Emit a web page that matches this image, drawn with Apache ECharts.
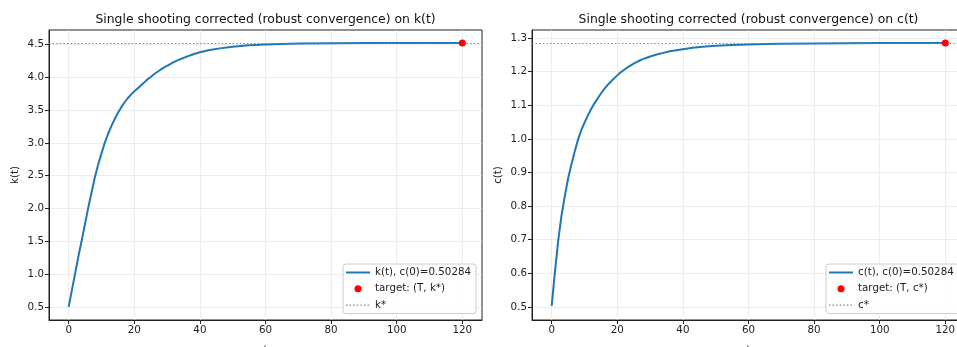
<!DOCTYPE html>
<html>
<head>
<meta charset="utf-8">
<script src="https://cdn.jsdelivr.net/npm/echarts@6/dist/echarts.min.js"></script>
<style>
  html, body { margin: 0; padding: 0; background: #fff; }
  #main { width: 957px; height: 347px; }
</style>
</head>
<body>
<div id="main"></div>
<script>
// values
const tPts = [0, 1, 2, 3, 4, 5, 6, 7, 8, 9, 10, 11, 12, 13, 14, 15, 16, 17, 18, 19, 20,
    21, 22, 23, 24, 25, 26, 27, 28, 29, 30, 32, 34, 36, 38, 40, 43, 46, 50, 55, 60, 65, 70, 80, 90, 100, 110, 120];
const kVals = [0.50, 0.76, 1.02, 1.28, 1.52, 1.77, 2.02, 2.25, 2.48, 2.67, 2.84, 3.00, 3.135, 3.255, 3.36, 3.455, 3.54, 3.615, 3.68, 3.735, 3.785,
    3.83, 3.875, 3.92, 3.965, 4.005, 4.045, 4.08, 4.115, 4.145, 4.175, 4.23, 4.275, 4.315, 4.35, 4.38, 4.415, 4.44, 4.465, 4.487, 4.50, 4.508, 4.513, 4.518, 4.521, 4.522, 4.523, 4.523];
const cVals = [0.503, 0.605, 0.698, 0.772, 0.83, 0.882, 0.924, 0.962, 0.997, 1.025, 1.048, 1.069, 1.088, 1.105, 1.120, 1.135, 1.148, 1.160, 1.170, 1.180, 1.189,
    1.198, 1.205, 1.212, 1.218, 1.224, 1.229, 1.234, 1.238, 1.2415, 1.245, 1.251, 1.256, 1.2605, 1.264, 1.267, 1.271, 1.274, 1.277, 1.279, 1.281, 1.282, 1.283, 1.284, 1.2845, 1.285, 1.285, 1.285];
const kStar = 4.523;
const cStar = 1.285;
const tEnd = 120;
const xTicks = [0, 20, 40, 60, 80, 100, 120];
const kTicks = [0.5, 1.0, 1.5, 2.0, 2.5, 3.0, 3.5, 4.0, 4.5];
const cTicks = [0.5, 0.6, 0.7, 0.8, 0.9, 1.0, 1.1, 1.2, 1.3];

const FONT = 'DejaVu Sans';
const BLUE = '#1f77b4';
const GRAY = '#808080';
// legend glyphs: the first two moves only fix the box size so the marks keep their shape
const LINE_ICON = 'path://M0,0M24,7M0,2.5H24V4.5H0Z';
const DOT_ICON = 'path://M0,0M24,7M0,2.9H1.4V4.1H0Z M3.6,2.9H5V4.1H3.6Z M7.2,2.9H8.6V4.1H7.2Z M10.8,2.9H12.2V4.1H10.8Z M14.4,2.9H15.8V4.1H14.4Z M18,2.9H19.4V4.1H18Z M21.6,2.9H23V4.1H21.6Z';

function pairs(xs, ys) {
    return xs.map((x, i) => [x, ys[i]]);
}

// only show labels that are on the tick list (ECharts adds min/max ticks too)
function tickFormatter(list, digits) {
    return function (v) {
        for (let i in list) {
            if (Math.abs(list[i] - v) < 1e-6) return digits ? v.toFixed(digits) : String(v);
        }
        return '';
    };
}

function xAxisFor(gridIndex) {
    return {
        type: 'value', gridIndex: gridIndex,
        min: -6, max: 126, minInterval: 20, maxInterval: 20,
        name: 't', nameLocation: 'middle', nameGap: 25,
        nameTextStyle: { fontFamily: FONT, fontSize: 10.3, color: '#222', verticalAlign: 'top' },
        axisLine: { show: true, onZero: false, lineStyle: { color: '#222', width: 1 } },
        axisTick: { show: true, length: 4, customValues: xTicks, lineStyle: { color: '#222' } },
        axisLabel: { fontFamily: FONT, fontSize: 10.3, color: '#222', margin: 5, customValues: xTicks, formatter: tickFormatter(xTicks, 0) },
        splitLine: { show: true, lineStyle: { color: '#e8e8e8', width: 0.8 } }
    };
}

function yAxisFor(gridIndex, name, min, max, step, ticks) {
    return {
        type: 'value', gridIndex: gridIndex,
        min: min, max: max, minInterval: step, maxInterval: step,
        name: name, nameLocation: 'middle', nameGap: 29, nameRotate: 90,
        nameTextStyle: { fontFamily: FONT, fontSize: 10.3, color: '#222' },
        axisLine: { show: true, onZero: false, lineStyle: { color: '#222', width: 1 } },
        axisTick: { show: true, length: 4, customValues: ticks, lineStyle: { color: '#222' } },
        axisLabel: { fontFamily: FONT, fontSize: 10.3, color: '#222', margin: 5, customValues: ticks, formatter: tickFormatter(ticks, 1) },
        splitLine: { show: true, lineStyle: { color: '#e8e8e8', width: 0.8 } }
    };
}

function legendFor(left, names) {
    return {
        left: left, top: 264, orient: 'vertical',
        data: [
            { name: names[0], icon: LINE_ICON, itemStyle: { color: BLUE } },
            { name: names[1], icon: 'circle' },
            { name: names[2], icon: DOT_ICON, itemStyle: { color: GRAY } }
        ],
        itemWidth: 24, itemHeight: 7, itemGap: 3.3,
        padding: [2, 5, 2, 3],
        backgroundColor: 'rgba(255,255,255,0.8)',
        borderColor: '#cccccc', borderWidth: 1, borderRadius: 3,
        textStyle: { fontFamily: FONT, fontSize: 10.3, color: '#222', lineHeight: 13 }
    };
}

function seriesFor(idx, vals, star, curveName, targetName, starName) {
    return [
        {
            name: curveName, type: 'line', xAxisIndex: idx, yAxisIndex: idx,
            data: pairs(tPts, vals), smooth: false,
            symbol: 'none', lineStyle: { color: BLUE, width: 2 }, itemStyle: { color: BLUE }, z: 3
        },
        {
            name: starName, type: 'line', xAxisIndex: idx, yAxisIndex: idx,
            data: [], symbol: 'none',
            lineStyle: { color: GRAY, width: 1.2, type: [1.4, 2.2] }, itemStyle: { color: GRAY },
            markLine: {
                silent: true, symbol: 'none', precision: 6, label: { show: false },
                lineStyle: { color: GRAY, width: 1.2, type: [1.4, 2.2] },
                data: [{ yAxis: star }]
            },
            z: 2
        },
        {
            name: targetName, type: 'scatter', xAxisIndex: idx, yAxisIndex: idx,
            data: [[tEnd, star]], symbol: 'circle', symbolSize: 7,
            itemStyle: { color: '#ff0000', opacity: 1 }, z: 5
        }
    ];
}

let chart = echarts.init(document.getElementById('main'));
let option = {
    animation: false,
    backgroundColor: '#fff',
    title: [
        {
            text: 'Single shooting corrected (robust convergence) on k(t)',
            left: 265.5, top: 14, textAlign: 'center', padding: 0,
            textStyle: { fontFamily: FONT, fontSize: 12.4, fontWeight: 'normal', color: '#111' }
        },
        {
            text: 'Single shooting corrected (robust convergence) on c(t)',
            left: 748.5, top: 14, textAlign: 'center', padding: 0,
            textStyle: { fontFamily: FONT, fontSize: 12.4, fontWeight: 'normal', color: '#111' }
        }
    ],
    grid: [
        { left: 49, top: 30, width: 433, height: 290, outerBoundsMode: 'none', containLabel: false,
          show: true, borderColor: '#222', borderWidth: 1, backgroundColor: 'transparent' },
        { left: 532, top: 30, width: 433, height: 290, outerBoundsMode: 'none', containLabel: false,
          show: true, borderColor: '#222', borderWidth: 1, backgroundColor: 'transparent' }
    ],
    xAxis: [xAxisFor(0), xAxisFor(1)],
    yAxis: [
        yAxisFor(0, 'k(t)', 0.3, 4.72, 0.5, kTicks),
        yAxisFor(1, 'c(t)', 0.461, 1.324, 0.1, cTicks)
    ],
    legend: [
        legendFor(343, ['k(t), c(0)=0.50284', 'target: (T, k*)', 'k*']),
        legendFor(826, ['c(t), c(0)=0.50284', 'target: (T, c*)', 'c*'])
    ],
    series: [].concat(
        seriesFor(0, kVals, kStar, 'k(t), c(0)=0.50284', 'target: (T, k*)', 'k*'),
        seriesFor(1, cVals, cStar, 'c(t), c(0)=0.50284', 'target: (T, c*)', 'c*')
    )
};
chart.setOption(option);
</script>
</body>
</html>
